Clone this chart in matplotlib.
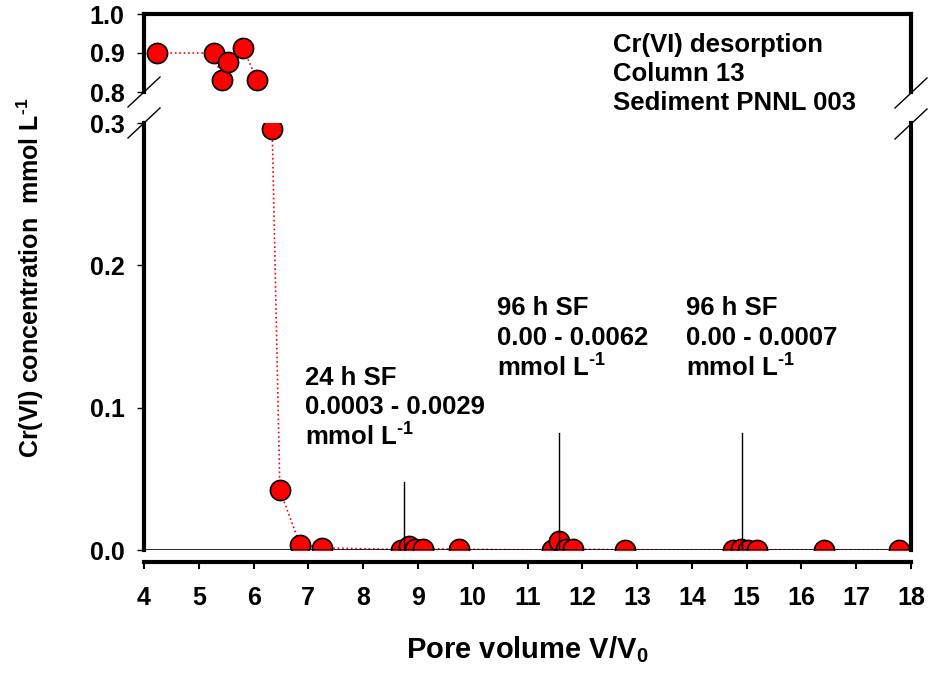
import matplotlib
matplotlib.use('Agg')
import matplotlib.pyplot as plt
from matplotlib.lines import Line2D

plt.rcParams['font.family'] = ['Liberation Sans', 'DejaVu Sans']
plt.rcParams['font.weight'] = 'bold'
plt.rcParams['mathtext.fontset'] = 'custom'
plt.rcParams['mathtext.rm'] = 'Liberation Sans:bold'
plt.rcParams['mathtext.bf'] = 'Liberation Sans:bold'
plt.rcParams['mathtext.it'] = 'Liberation Sans:bold'

# data
pore_volume = [4.24, 5.28, 5.42, 5.53, 5.81, 6.06, 6.34, 6.48, 6.85, 7.25,
               8.69, 8.84, 8.95, 9.09, 9.75, 11.45, 11.57, 11.70, 11.83, 12.78,
               14.75, 14.89, 15.02, 15.19, 16.41, 17.78]
cr_conc = [0.900, 0.900, 0.831, 0.877, 0.913, 0.831, 0.296, 0.042, 0.0035, 0.0015,
           0.0003, 0.0029, 0.0010, 0.0010, 0.0005, 0.0000, 0.0062, 0.0010, 0.0005, 0.0002,
           0.0000, 0.0007, 0.0003, 0.0002, 0.0001, 0.0000]

# stop-flow events: position and height of the marker lines
sf_x = [8.74, 11.57, 14.91]
sf_top = [0.048, 0.082, 0.082]
unit = r"mmol L$^{\text{-1}}$"
sf_labels = [["24 h SF", "0.0003 - 0.0029", unit],
             ["96 h SF", "0.00 - 0.0062", unit],
             ["96 h SF", "0.00 - 0.0007", unit]]
sf_text_x = [6.94, 10.44, 13.89]
sf_text_y = [[0.1211, 0.1007, 0.0796],
             [0.1697, 0.1486, 0.1282],
             [0.1697, 0.1486, 0.1282]]

xticks = list(range(4, 19))
yticks_top = [0.8, 0.9, 1.0]
yticks_bot = [0.0, 0.1, 0.2, 0.3]

W, H = 930, 676
fig = plt.figure(figsize=(9.3, 6.76), dpi=100)

left, right = 144 / W, 911 / W
ax_top = fig.add_axes([left, 1 - 92 / H, right - left, (92 - 14) / H])
ax_bot = fig.add_axes([left, 1 - 550 / H, right - left, (550 - 123) / H])

for ax in (ax_top, ax_bot):
    ax.plot(pore_volume, cr_conc, color='red', ls=':', lw=1.2, zorder=2)
    ax.plot(pore_volume, cr_conc, ls='none', marker='o', ms=14.5,
            mfc='red', mec='black', mew=1.2, zorder=3)
    ax.set_xlim(4, 18)
    for s in ax.spines.values():
        s.set_linewidth(3)
    ax.tick_params(axis='y', direction='out', length=5, width=1, pad=9,
                   labelsize=18)

ax_top.set_ylim(0.8, 1.0)
ax_top.set_yticks(yticks_top)
ax_top.set_yticklabels(['%.1f' % v for v in yticks_top])
ax_top.spines['bottom'].set_visible(False)
ax_top.set_xticks([])

ax_bot.set_ylim(0, 0.3)
ax_bot.set_yticks(yticks_bot)
ax_bot.set_yticklabels(['%.1f' % v for v in yticks_bot])
ax_bot.spines['top'].set_visible(False)
ax_bot.spines['bottom'].set_position(('outward', 8.6))
ax_bot.set_xticks(xticks)
ax_bot.tick_params(axis='x', direction='out', length=5, width=1.5, pad=12,
                   labelsize=18)

# zero line and stop-flow lines (drawn over markers like the original)
ax_bot.axhline(0, color='black', lw=1.2, zorder=4)
for x, t in zip(sf_x, sf_top):
    ax_bot.plot([x, x], [0, t], color='black', lw=1, zorder=4)

for x, ys, lines in zip(sf_text_x, sf_text_y, sf_labels):
    for y, s in zip(ys, lines):
        ax_bot.text(x, y, s, fontsize=18.5, fontweight='bold', ha='left', va='center')

# title block top right
for i, s in enumerate(["Cr(VI) desorption", "Column 13", "Sediment PNNL 003"]):
    fig.text(613 / W, 1 - (45 + 29 * i) / H, s, fontsize=18.5, fontweight='bold',
             ha='left', va='center')

# axis break marks
dx, dy = 16 / W, 15 / H
for px, py in [(144, 92), (144, 123), (911, 93), (911, 124)]:
    fx, fy = px / W, 1 - py / H
    fig.add_artist(Line2D([fx - dx, fx + dx], [fy - dy, fy + dy], color='black', lw=1))

fig.text(30 / W, 1 - 278 / H, "Cr(VI) concentration  " + unit, rotation=90,
         fontsize=18, fontweight='bold', ha='center', va='center')
fig.text(527 / W, 1 - 650 / H, "Pore volume V/V$_0$", fontsize=21, fontweight='bold',
         ha='center', va='center')

fig.savefig('out.png', dpi=100)
